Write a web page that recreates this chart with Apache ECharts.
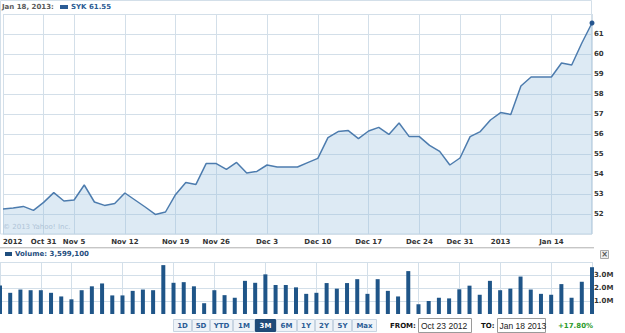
<!DOCTYPE html>
<html><head><meta charset="utf-8">
<script src="https://cdn.jsdelivr.net/npm/echarts@6/dist/echarts.min.js"></script>
<style>html,body{margin:0;padding:0;background:#fff}#c{width:625px;height:333px}</style>
</head><body><div id="c"></div>
<script>
// ---- data ----
const dates = ['Oct 23','Oct 24','Oct 25','Oct 26','Oct 31','Nov 1','Nov 2','Nov 5','Nov 6','Nov 7','Nov 8','Nov 9',
 'Nov 12','Nov 13','Nov 14','Nov 15','Nov 16','Nov 19','Nov 20','Nov 21','Nov 23','Nov 26','Nov 27','Nov 28','Nov 29','Nov 30',
 'Dec 3','Dec 4','Dec 5','Dec 6','Dec 7','Dec 10','Dec 11','Dec 12','Dec 13','Dec 14','Dec 17','Dec 18','Dec 19','Dec 20','Dec 21',
 'Dec 24','Dec 26','Dec 27','Dec 28','Dec 31','Jan 2','Jan 3','Jan 4','Jan 7','Jan 8','Jan 9','Jan 10','Jan 11',
 'Jan 14','Jan 15','Jan 16','Jan 17','Jan 18'];
const closePrices = [52.25,52.30,52.38,52.18,52.58,53.07,52.65,52.70,53.45,52.60,52.43,52.52,
 53.05,52.70,52.35,51.98,52.10,52.98,53.58,53.48,54.52,54.52,54.23,54.58,54.05,54.13,
 54.45,54.35,54.35,54.35,54.57,54.78,55.82,56.12,56.17,55.77,56.15,56.33,55.98,56.55,55.87,
 55.87,55.43,55.13,54.45,54.80,55.87,56.12,56.70,57.07,56.98,58.40,58.85,58.85,58.85,59.55,59.45,60.55,61.55];
const volumesM = [2.20,1.63,1.88,1.83,1.83,1.63,1.35,1.13,1.83,2.13,2.35,1.43,1.43,1.78,1.88,1.83,3.76,2.40,2.45,2.13,
 0.83,1.83,1.45,1.25,2.55,2.40,3.05,2.23,2.23,2.05,1.55,1.63,2.38,1.95,2.38,2.68,1.55,2.68,1.78,1.35,
 3.30,0.75,1.00,1.25,1.20,1.90,2.18,1.48,2.55,1.83,1.95,2.88,1.88,1.55,1.48,2.30,1.25,2.48,3.5991];
const tickDates = ['Oct 23','Oct 31','Nov 5','Nov 12','Nov 19','Nov 26','Dec 3','Dec 10','Dec 17','Dec 24','Dec 31','Jan 7','Jan 14'];
const tickLabels = ['2012','Oct 31','Nov 5','Nov 12','Nov 19','Nov 26','Dec 3','Dec 10','Dec 17','Dec 24','Dec 31','2013','Jan 14'];
const rangeButtons = ['1D','5D','YTD','1M','3M','6M','1Y','2Y','5Y','Max'];
const selectedRange = '3M';
const headerDate = 'Jan 18, 2013:';
const headerSeries = 'SYK 61.55';
const volumeTitle = 'Volume: 3,599,100';
const fromDate = 'Oct 23 2012';
const toDate = 'Jan 18 2013';
const changeText = '+17.80%';
const watermark = '\u00a9 2013 Yahoo! Inc.';

// ---- styles ----
const FONT = 'DejaVu Sans';
const gridColor = '#d3dfe9';
const blue = '#2b5c95';
const tickIdx = tickDates.map(d => dates.indexOf(d));
const lastIdx = dates.length - 1;
const lineIdx = new Set([...tickIdx, lastIdx]);

const chart = echarts.init(document.getElementById('c'), null, {renderer: 'svg'});

const btnW = [19,18,23,22,21,21,18,18,19,25];
const graphics = [];
graphics.push({type:'rect', shape:{x:0.5,y:0.5,width:591,height:233.5}, style:{fill:'none', stroke:gridColor, lineWidth:1}, z:-1});
graphics.push({type:'text', x:2, y:7, style:{text:headerDate, font:'bold 7px "'+FONT+'"', fill:'#5a5a5a', verticalAlign:'middle'}});
graphics.push({type:'rect', shape:{x:60,y:5,width:8,height:4}, style:{fill:blue}});
graphics.push({type:'text', x:71, y:7, style:{text:headerSeries, font:'bold 7px "'+FONT+'"', fill:blue, verticalAlign:'middle'}});
graphics.push({type:'text', x:3, y:227, style:{text:watermark, font:'7px "'+FONT+'"', fill:'#b0c5d8', verticalAlign:'middle'}, z:5});
graphics.push({type:'line', shape:{x1:0,y1:247.5,x2:594,y2:247.5}, style:{stroke:'#c6c6c6', lineWidth:1}});
graphics.push({type:'line', shape:{x1:0,y1:248.5,x2:594,y2:248.5}, style:{stroke:'#e8e8e8', lineWidth:1}});
graphics.push({type:'rect', shape:{x:5,y:252,width:7,height:4}, style:{fill:'#1f4e7e'}});
graphics.push({type:'text', x:15, y:254, style:{text:volumeTitle, font:'bold 7px "'+FONT+'"', fill:'#1f4e7e', verticalAlign:'middle'}});
graphics.push({type:'rect', shape:{x:600.5,y:250.5,width:8,height:8}, style:{fill:'#eeeeee', stroke:'#a8a8a8', lineWidth:1}});
graphics.push({type:'text', x:604.5, y:254.5, style:{text:'\u00d7', font:'bold 8px "'+FONT+'"', fill:'#555', align:'center', verticalAlign:'middle'}});
let bx = 173;
rangeButtons.forEach((b, i) => {
  const sel = b === selectedRange;
  graphics.push({type:'rect', shape:{x:bx+0.5,y:319.5,width:btnW[i]-1,height:12}, style:{fill: sel ? '#1f4a78' : '#eef3f8', stroke: sel ? '#1f4a78' : '#c8d5e2', lineWidth:1}});
  graphics.push({type:'text', x:bx+btnW[i]/2, y:325.5, style:{text:b, font:'bold 7px "'+FONT+'"', fill: sel ? '#ffffff' : '#2b5c95', align:'center', verticalAlign:'middle'}});
  bx += btnW[i];
});
graphics.push({type:'text', x:390, y:325.5, style:{text:'FROM:', font:'bold 7px "'+FONT+'"', fill:'#111', verticalAlign:'middle'}});
graphics.push({type:'rect', shape:{x:418.5,y:318.5,width:53,height:14}, style:{fill:'#fff', stroke:'#9a9a9a', lineWidth:1}});
graphics.push({type:'text', x:421, y:325.5, style:{text:fromDate, font:'8.5px "Liberation Sans"', fill:'#222', verticalAlign:'middle'}});
graphics.push({type:'text', x:481, y:325.5, style:{text:'TO:', font:'bold 7px "'+FONT+'"', fill:'#111', verticalAlign:'middle'}});
graphics.push({type:'rect', shape:{x:497.5,y:318.5,width:48,height:14}, style:{fill:'#fff', stroke:'#9a9a9a', lineWidth:1}});
graphics.push({type:'text', x:499.5, y:325.5, style:{text:toDate, font:'8.5px "Liberation Sans"', fill:'#222', verticalAlign:'middle'}});
graphics.push({type:'text', x:558, y:325.5, style:{text:changeText, font:'bold 7px "'+FONT+'"', fill:'#2c9a2c', verticalAlign:'middle'}});

const axisLabelStyle = {fontFamily: FONT, fontWeight:'bold', fontSize:7, color:'#333'};

chart.setOption({
  animation: false,
  backgroundColor: '#fff',
  grid: [
    {left:0, top:14, width:592, height:220},
    {left:0, top:262, width:592, height:52}
  ],
  xAxis: [
    {type:'category', gridIndex:0, data:dates, boundaryGap:false,
     axisLine:{show:false}, axisTick:{show:false},
     axisLabel:{...axisLabelStyle, margin:4, interval:(i)=>tickIdx.includes(i),
       formatter:(v)=>tickLabels[tickDates.indexOf(v)], alignMinLabel:'left'},
     splitLine:{show:true, interval:(i)=>lineIdx.has(i), lineStyle:{color:gridColor, width:1}}},
    {type:'category', gridIndex:1, data:dates, boundaryGap:false,
     axisLine:{show:false}, axisTick:{show:false}, axisLabel:{show:false},
     splitLine:{show:true, interval:(i)=>lineIdx.has(i), lineStyle:{color:gridColor, width:1}}}
  ],
  yAxis: [
    {type:'value', gridIndex:0, position:'right', min:51, max:62, interval:1,
     axisLine:{show:false}, axisTick:{show:false},
     axisLabel:{...axisLabelStyle, margin:2, formatter:(v)=>(v===51||v===62)?'':String(v)},
     splitLine:{show:true, lineStyle:{color:gridColor, width:1}}},
    {type:'value', gridIndex:1, position:'right', min:0, max:4, interval:1,
     axisLine:{show:false}, axisTick:{show:false},
     axisLabel:{...axisLabelStyle, margin:2, formatter:(v)=>(v>=1&&v<=3)?v.toFixed(1)+'M':''},
     splitLine:{show:true, lineStyle:{color:['rgba(0,0,0,0)',gridColor,gridColor,gridColor,gridColor], width:1}}}
  ],
  series: [
    {type:'line', xAxisIndex:0, yAxisIndex:0, symbol:'none',
     data: closePrices.map((v,i)=> i===lastIdx ? {value:v, symbol:'circle', symbolSize:5, itemStyle:{color:'#24558f'}} : v),
     lineStyle:{color:'#4d7cae', width:1.5},
     areaStyle:{color:'rgba(150,190,222,0.46)', origin:'start'}},
    {type:'bar', xAxisIndex:1, yAxisIndex:1, data:volumesM, barWidth:4,
     itemStyle:{color:'#1f5588'}}
  ],
  graphic: graphics
});
</script></body></html>
